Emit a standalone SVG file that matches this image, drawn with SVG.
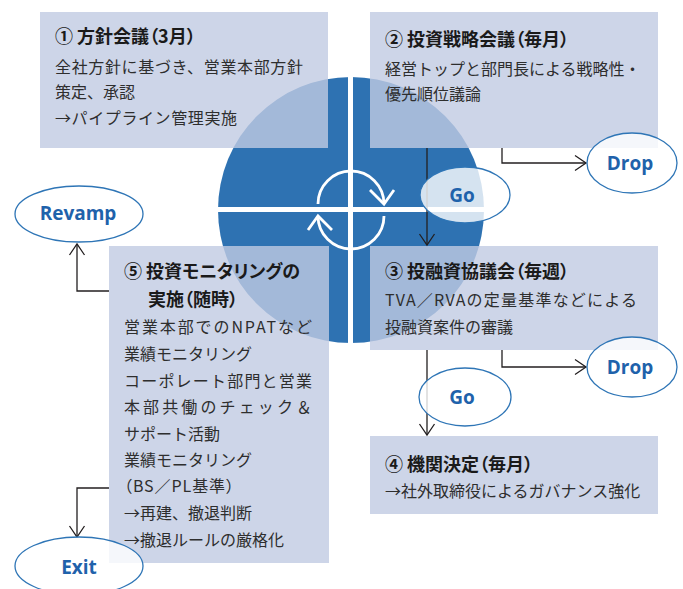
<svg xmlns="http://www.w3.org/2000/svg" width="683" height="589" viewBox="0 0 683 589">
<style>
.box{fill:rgb(193,203,226);fill-opacity:0.8}
.t{font-family:"Noto Sans CJK JP","Noto Sans",sans-serif;font-size:18px;font-weight:bold;fill:#1a1a1a;font-feature-settings:"palt"}
.b{font-family:"Noto Sans CJK JP","Noto Sans",sans-serif;font-size:16px;fill:#2e2e2e}
.p{font-feature-settings:"palt"}
.con{fill:none;stroke:#231f20;stroke-width:1.3}
.ov{fill:#ffffff;fill-opacity:0.8;stroke:#2e75b6;stroke-width:1.3}
.ol{font-family:"Open Sans","Noto Sans",sans-serif;font-size:19px;font-weight:bold;fill:#1f62ab;text-anchor:middle}
.wa{fill:none;stroke:#ffffff;stroke-width:2.8}
</style>
<defs>
<marker id="ah" markerUnits="userSpaceOnUse" markerWidth="14" markerHeight="18" viewBox="-12 -9 14 18" refX="0" refY="0" orient="auto">
<path d="M-11,-7.5 L0,0 L-11,7.5" fill="none" stroke="#231f20" stroke-width="1.3"/>
</marker>
</defs>
<rect width="683" height="589" fill="#ffffff"/>
<g id="cycle">
<circle cx="351" cy="210" r="133" fill="#2e72b2"/>
<line x1="350.5" y1="75" x2="350.5" y2="345" stroke="#ffffff" stroke-width="5"/>
<line x1="217" y1="209.5" x2="486" y2="209.5" stroke="#ffffff" stroke-width="5"/>
<path class="wa" d="M318,204 A33,33 0 0 1 384,204"/>
<path class="wa" d="M370,190 L384,204 L394,190"/>
<path class="wa" d="M384,216 A33,33 0 0 1 318,216"/>
<path class="wa" d="M332,230 L318,216 L308,230"/>
</g>
<g id="node1">
<rect class="box" x="40" y="12" width="288" height="136"/>
<text class="t" x="55" y="43">① 方針会議（3月）</text>
<text class="b" x="55" y="73" textLength="248">全社方針に基づき、営業本部方針</text>
<text class="b" x="55" y="98">策定、承認</text>
<text class="b" x="55" y="124" textLength="182">→パイプライン管理実施</text>
</g>
<g id="node2">
<rect class="box" x="370" y="12" width="288" height="136"/>
<text class="t" x="385" y="46">② 投資戦略会議（毎月）</text>
<text class="b" x="385" y="75">経営トップと部門長による戦略性・</text>
<text class="b" x="385" y="100">優先順位議論</text>
</g>
<g id="node3">
<rect class="box" x="370" y="246" width="288" height="104"/>
<text class="t" x="385" y="278">③ 投融資協議会（毎週）</text>
<text class="b" x="385" y="306" textLength="252">TVA／RVAの定量基準などによる</text>
<text class="b" x="385" y="333">投融資案件の審議</text>
</g>
<g id="node4">
<rect class="box" x="370" y="436" width="288" height="78"/>
<text class="t" x="385" y="471">④ 機関決定（毎月）</text>
<text class="b" x="385" y="497">→社外取締役によるガバナンス強化</text>
</g>
<g id="node5">
<rect class="box" x="109" y="246" width="220" height="317"/>
<text class="t" x="124" y="278">⑤ 投資モニタリングの</text>
<text class="t" x="148" y="306">実施（随時）</text>
<text class="b" x="124" y="333" textLength="188">営業本部でのNPATなど</text>
<text class="b" x="124" y="360">業績モニタリング</text>
<text class="b" x="124" y="387" textLength="188">コーポレート部門と営業</text>
<text class="b" x="124" y="413" textLength="188">本部共働のチェック＆</text>
<text class="b" x="124" y="440">サポート活動</text>
<text class="b" x="124" y="466">業績モニタリング</text>
<text class="b p" x="124" y="492" textLength="110">（BS／PL基準）</text>
<text class="b" x="124" y="519">→再建、撤退判断</text>
<text class="b" x="124" y="546">→撤退ルールの厳格化</text>
</g>
<g id="connectors">
<path class="con" d="M502,148 V163 H586" marker-end="url(#ah)"/>
<path class="con" d="M427,148 V245" marker-end="url(#ah)"/>
<path class="con" d="M502,350 V367 H586" marker-end="url(#ah)"/>
<path class="con" d="M427,350 V435" marker-end="url(#ah)"/>
<path class="con" d="M109,291 H77 V244" marker-end="url(#ah)"/>
<path class="con" d="M109,488 H77 V537" marker-end="url(#ah)"/>
</g>
<g id="drop1">
<ellipse class="ov" cx="632" cy="163" rx="45" ry="30"/>
<text class="ol" x="630" y="170">Drop</text>
</g>
<g id="go1">
<ellipse class="ov" cx="465" cy="195" rx="45" ry="28"/>
<text class="ol" x="462" y="202">Go</text>
</g>
<g id="drop2">
<ellipse class="ov" cx="632" cy="367" rx="45" ry="30"/>
<text class="ol" x="630" y="374">Drop</text>
</g>
<g id="go2">
<ellipse class="ov" cx="465" cy="397" rx="46" ry="29"/>
<text class="ol" x="462" y="404">Go</text>
</g>
<g id="revamp">
<ellipse class="ov" cx="79" cy="214" rx="64" ry="28"/>
<text class="ol" x="78" y="220">Revamp</text>
</g>
<g id="exit">
<ellipse class="ov" cx="79" cy="566" rx="64" ry="29"/>
<text class="ol" x="79" y="574">Exit</text>
</g>
</svg>
